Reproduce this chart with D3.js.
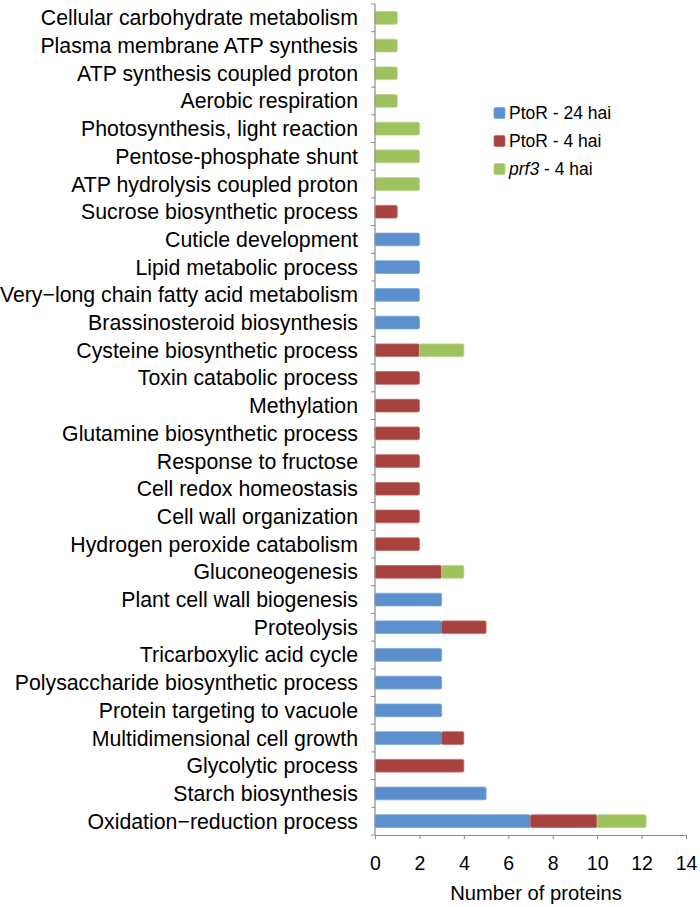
<!DOCTYPE html>
<html>
<head>
<meta charset="utf-8">
<script src="https://cdn.jsdelivr.net/npm/d3@7"></script>
<style>
  html, body { margin: 0; padding: 0; background: #fff; }
  svg { display: block; font-family: "Liberation Sans", Arial, sans-serif; }
</style>
</head>
<body>
<svg id="chart" width="700" height="907"></svg>
<script>
// Categories, top to bottom
const categories = [
  "Cellular carbohydrate metabolism",
  "Plasma membrane ATP synthesis",
  "ATP synthesis coupled proton",
  "Aerobic respiration",
  "Photosynthesis, light reaction",
  "Pentose-phosphate shunt",
  "ATP hydrolysis coupled proton",
  "Sucrose biosynthetic process",
  "Cuticle development",
  "Lipid metabolic process",
  "Very\u2212long chain fatty acid metabolism",
  "Brassinosteroid biosynthesis",
  "Cysteine biosynthetic process",
  "Toxin catabolic process",
  "Methylation",
  "Glutamine biosynthetic process",
  "Response to fructose",
  "Cell redox homeostasis",
  "Cell wall organization",
  "Hydrogen peroxide catabolism",
  "Gluconeogenesis",
  "Plant cell wall biogenesis",
  "Proteolysis",
  "Tricarboxylic acid cycle",
  "Polysaccharide biosynthetic process",
  "Protein targeting to vacuole",
  "Multidimensional cell growth",
  "Glycolytic process",
  "Starch biosynthesis",
  "Oxidation\u2212reduction process"
];
const ptor24 = [0,0,0,0,0,0,0,0,2,2,2,2,0,0,0,0,0,0,0,0,0,3,3,3,3,3,3,0,5,7];
const ptor4  = [0,0,0,0,0,0,0,1,0,0,0,0,2,2,2,2,2,2,2,2,3,0,2,0,0,0,1,4,0,3];
const prf3_4 = [1,1,1,1,2,2,2,0,0,0,0,0,2,0,0,0,0,0,0,0,1,0,0,0,0,0,0,0,0,2.2];
const xTicks = [0,2,4,6,8,10,12,14];
const seriesNames = ["PtoR - 24 hai", "PtoR - 4 hai", "prf3 - 4 hai"];
const seriesColors = ["#5b8fcd", "#a8423e", "#9dc25e"];
const seriesStroke = ["#7aa6da", "#c06a66", "#b5d385"];

const svg = d3.select("#chart");
const x = d3.scaleLinear().domain([0, 14]).range([375, 686]);
const y = d3.scaleBand().domain(categories).range([4, 835]).paddingInner(0.54).paddingOuter(0.27);

const table = categories.map((c, i) => ({cat: c, s0: ptor24[i], s1: ptor4[i], s2: prf3_4[i]}));
const stack = d3.stack().keys(["s0", "s1", "s2"])(table);

// Bars
stack.forEach((layer, li) => {
  svg.append("g").selectAll("rect")
    .data(layer.filter(d => d[1] - d[0] > 0))
    .join("rect")
    .attr("x", d => x(d[0]))
    .attr("y", d => y(d.data.cat))
    .attr("width", d => x(d[1]) - x(d[0]))
    .attr("height", y.bandwidth())
    .attr("rx", 1.5)
    .attr("fill", seriesColors[li])
    .attr("stroke", seriesStroke[li])
    .attr("stroke-width", 0.8);
});

// Y axis
const yAxisG = svg.append("g").attr("transform", "translate(375,0)");
yAxisG.append("line").attr("x1", 0).attr("x2", 0).attr("y1", 4).attr("y2", 835)
  .attr("stroke", "#8c8c8c").attr("stroke-width", 1.2);
const boundaries = d3.range(categories.length + 1).map(i => y.range()[0] + i * (y.range()[1] - y.range()[0]) / categories.length);
yAxisG.selectAll("line.tk").data(boundaries).join("line").attr("class", "tk")
  .attr("x1", -4).attr("x2", 0).attr("y1", d => d).attr("y2", d => d)
  .attr("stroke", "#8c8c8c").attr("stroke-width", 1);
yAxisG.selectAll("text").data(categories).join("text")
  .attr("x", -17)
  .attr("y", d => y(d) + y.bandwidth() / 2)
  .attr("dy", "0.35em")
  .attr("text-anchor", "end")
  .attr("font-size", "21.3px")
  .attr("fill", "#000")
  .text(d => d);

// X axis
const xAxis = d3.axisBottom(x).tickValues(xTicks).tickSize(4).tickPadding(17).tickSizeOuter(0);
const xAxisG = svg.append("g").attr("transform", "translate(0,835)").call(xAxis);
xAxisG.select(".domain").attr("stroke", "#8c8c8c").attr("stroke-width", 1.2);
xAxisG.selectAll(".tick line").attr("stroke", "#8c8c8c");
xAxisG.selectAll(".tick text").attr("font-size", "19.5px").attr("fill", "#000")
  .attr("font-family", "'Liberation Sans', Arial, sans-serif");

svg.append("text")
  .attr("x", 536).attr("y", 900)
  .attr("text-anchor", "middle")
  .attr("font-size", "20.2px")
  .text("Number of proteins");

// Legend
const legend = svg.append("g");
seriesNames.forEach((name, i) => {
  const g = legend.append("g").attr("transform", `translate(494,${113 + i * 28})`);
  g.append("rect").attr("x", 0).attr("y", -5.5).attr("width", 11).attr("height", 11)
    .attr("rx", 1.5).attr("fill", seriesColors[i]).attr("stroke", seriesStroke[i]).attr("stroke-width", 0.8);
  const t = g.append("text").attr("x", 15).attr("y", 0).attr("dy", "0.35em").attr("font-size", "17.5px");
  if (i === 2) {
    t.append("tspan").attr("font-style", "italic").text("prf3");
    t.append("tspan").text(" - 4 hai");
  } else {
    t.text(name);
  }
});
</script>
</body>
</html>
